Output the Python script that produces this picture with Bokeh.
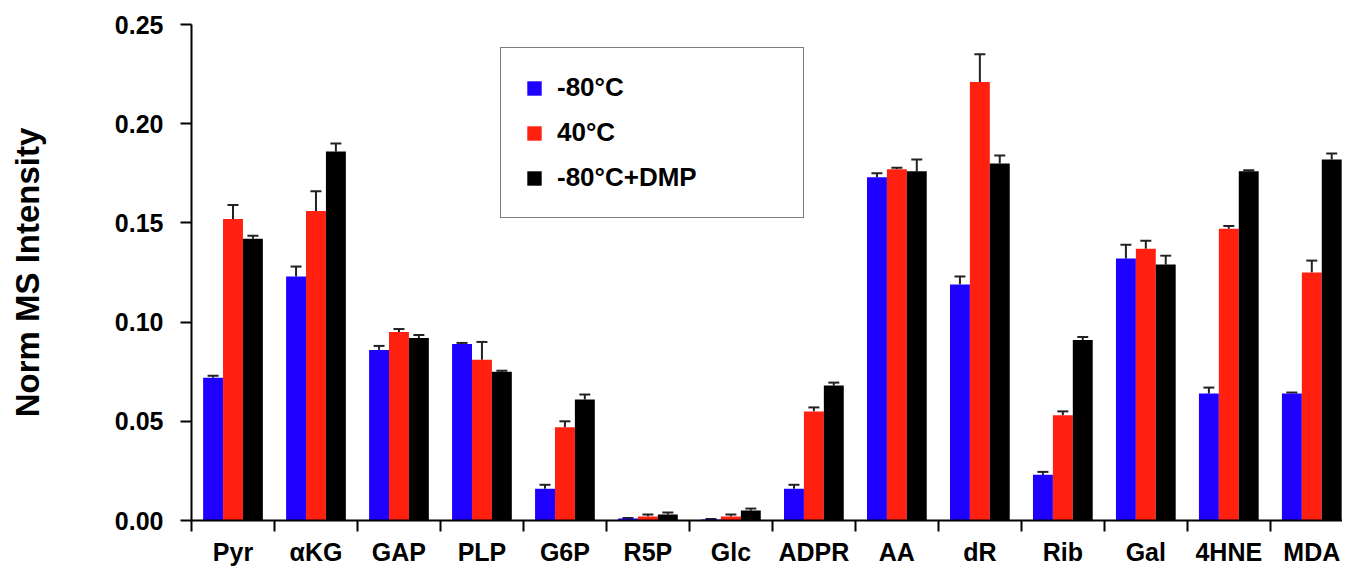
from bokeh.plotting import figure
from bokeh.models import (ColumnDataSource, FixedTicker, Whisker, TeeHead,
                          NumeralTickFormatter, Range1d)
from bokeh.embed import file_html
from bokeh.resources import INLINE

categories = ["Pyr", "\u03b1KG", "GAP", "PLP", "G6P", "R5P", "Glc", "ADPR",
              "AA", "dR", "Rib", "Gal", "4HNE", "MDA"]
series_names = ["-80\u00b0C", "40\u00b0C", "-80\u00b0C+DMP"]

minus80 = [0.072, 0.123, 0.086, 0.089, 0.016, 0.001, 0.0005, 0.016,
           0.173, 0.119, 0.023, 0.132, 0.064, 0.064]
minus80_err = [0.001, 0.005, 0.002, 0.0005, 0.002, 0.0003, 0.0002, 0.002,
               0.002, 0.004, 0.0015, 0.007, 0.003, 0.0005]
plus40 = [0.152, 0.156, 0.095, 0.081, 0.047, 0.002, 0.002, 0.055,
          0.177, 0.221, 0.053, 0.137, 0.147, 0.125]
plus40_err = [0.007, 0.010, 0.0015, 0.009, 0.003, 0.001, 0.001, 0.002,
              0.0008, 0.014, 0.002, 0.004, 0.0015, 0.006]
dmp = [0.142, 0.186, 0.092, 0.075, 0.061, 0.003, 0.005, 0.068,
       0.176, 0.180, 0.091, 0.129, 0.176, 0.182]
dmp_err = [0.0015, 0.004, 0.0015, 0.0005, 0.0025, 0.001, 0.001, 0.0015,
           0.006, 0.004, 0.0015, 0.0045, 0.0005, 0.003]

colors = ["#1E00FF", "#FF2010", "#000000"]
offsets = [-0.24, 0.0, 0.24]
yticks = [0.0, 0.05, 0.10, 0.15, 0.20, 0.25]

FONT = "Liberation Sans"

n = len(categories)
p = figure(frame_width=1151, frame_height=496, output_backend="svg",
           toolbar_location=None, min_border_left=191, min_border_top=24,
           min_border_right=0, min_border_bottom=10,
           x_range=Range1d(0, 13.87), y_range=Range1d(0, 0.25))

for vals, errs, col, off, name in zip([minus80, plus40, dmp],
                                      [minus80_err, plus40_err, dmp_err],
                                      colors, offsets, series_names):
    xs = [i + 0.5 + off for i in range(n)]
    src = ColumnDataSource(dict(x=xs, top=vals,
                                upper=[v + e for v, e in zip(vals, errs)],
                                lower=vals))
    p.vbar(x="x", top="top", width=0.24, bottom=0, source=src,
           fill_color=col, line_color=None, legend_label=name)
    p.add_layout(Whisker(source=src, base="x", upper="upper", lower="lower",
                         line_color="#222222", line_width=2,
                         upper_head=TeeHead(size=11, line_width=2, line_color="#222222"),
                         lower_head=None))

p.xgrid.grid_line_color = None
p.ygrid.grid_line_color = None
p.outline_line_color = None
p.background_fill_color = "white"
p.border_fill_color = "white"

# x axis
xa = p.xaxis[0]
centers = [i + 0.5 for i in range(n)]
xa.ticker = FixedTicker(ticks=centers, minor_ticks=list(range(0, n + 1)))
xa.major_label_overrides = {c: lab for c, lab in zip(centers, categories)}
xa.major_tick_out = 0
xa.major_tick_in = 0
xa.minor_tick_out = 11
xa.minor_tick_in = 0
xa.minor_tick_line_color = "black"
xa.minor_tick_line_width = 2
xa.axis_line_width = 2
xa.axis_line_color = "black"
xa.major_label_text_font = FONT
xa.major_label_text_font_style = "bold"
xa.major_label_text_font_size = "25px"
xa.major_label_text_color = "black"
xa.major_label_standoff = 6

# y axis
ya = p.yaxis[0]
ya.ticker = FixedTicker(ticks=yticks)
ya.formatter = NumeralTickFormatter(format="0.00")
ya.major_tick_out = 11
ya.major_tick_in = 0
ya.minor_tick_out = 0
ya.minor_tick_in = 0
ya.major_tick_line_width = 2
ya.axis_line_width = 2
ya.axis_line_color = "black"
ya.major_label_text_font = FONT
ya.major_label_text_font_style = "bold"
ya.major_label_text_font_size = "25px"
ya.major_label_text_color = "black"
ya.major_label_standoff = 17
ya.axis_label = "Norm MS Intensity"
ya.axis_label_text_font = FONT
ya.axis_label_text_font_style = "bold"
ya.axis_label_text_font_size = "33px"
ya.axis_label_text_color = "black"
ya.axis_label_standoff = 66

# legend
lg = p.legend[0]
lg.location = (309, 302)
lg.border_line_color = "black"
lg.border_line_width = 1.5
lg.padding = 24
lg.spacing = 14
lg.label_height = 30
lg.glyph_height = 18
lg.glyph_width = 18
lg.label_standoff = 14
lg.label_width = 222
lg.label_text_font = FONT
lg.label_text_font_style = "bold"
lg.label_text_font_size = "26px"
lg.label_text_color = "black"
lg.background_fill_alpha = 1.0

open("out.html", "w").write(file_html(p, INLINE))
